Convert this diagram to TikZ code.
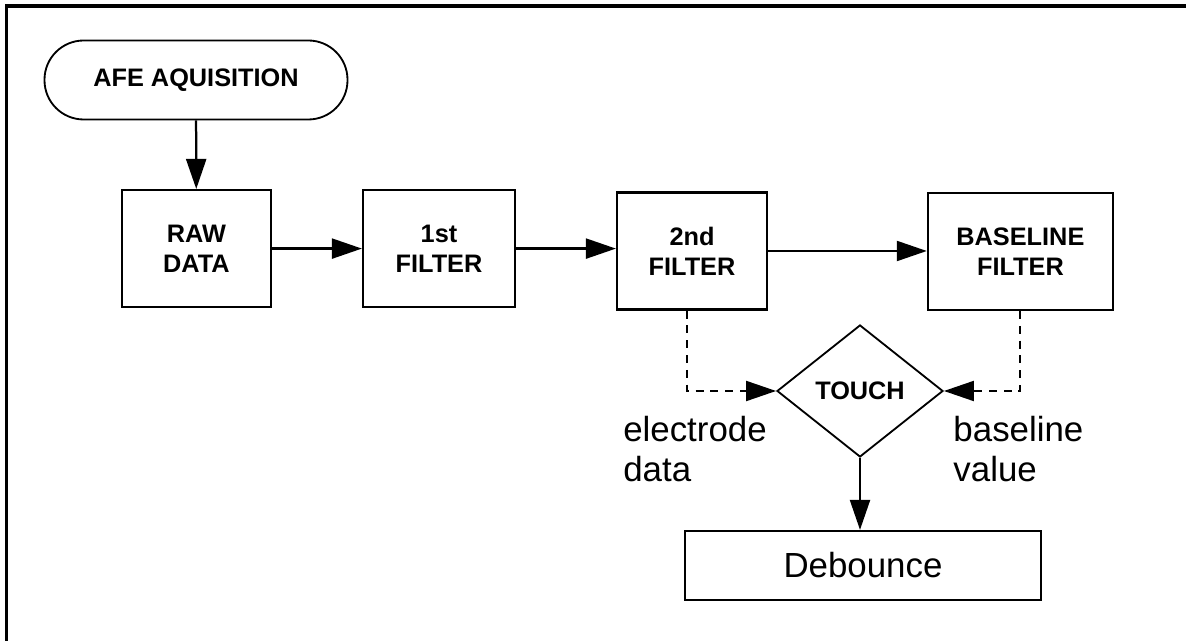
\documentclass[tikz,border=0pt]{standalone}
\usepackage{fontspec}
\setmainfont{Liberation Sans}
\usetikzlibrary{shapes.geometric,arrows.meta}

\begin{document}
\begin{tikzpicture}[
    blk/.style={draw, line width=1.6pt, minimum width=3.75cm, minimum height=2.925cm,
        align=center, font=\fontsize{18}{21.5}\selectfont\bfseries},
    flow/.style={-{Triangle[length=0.75cm,width=0.5cm]}, line width=1.6pt},
    dflow/.style={flow, line width=1.4pt, dash pattern=on 0.2cm off 0.17cm},
    lbltext/.style={inner sep=0pt, align=left, font=\fontsize{24.8}{28.4}\selectfont}
]
    % Frame
    \useasboundingbox (0,0) rectangle (29.65,16.025);
    \draw[line width=2.4pt] (0.16,0) -- (0.16,15.875) -- (29.65,15.875);

    % Start
    \node[blk, rounded corners=0.98cm, line width=1.3pt, minimum width=7.575cm, minimum height=1.975cm] (afe) at (4.9,14.025) {AFE AQUISITION};

    % Filter chain
    \node[blk, minimum width=3.725cm] (raw) at (4.91,9.81) {RAW\\DATA};
    \node[blk, minimum width=3.8cm] (fa) at (10.975,9.81) {1st\\FILTER};
    \node[blk] (fb) at (17.3,9.75) {2nd\\FILTER};
    \node[blk, minimum width=4.625cm] (base) at (25.51,9.74) {BASELINE\\FILTER};

    % Decision and debounce
    \node[blk, diamond, line width=1.3pt, minimum width=4.15cm, minimum height=3.3cm, inner sep=0pt] (touch) at (21.5,6.25) {TOUCH};
    \node[blk, minimum width=8.9cm, minimum height=1.725cm, font=\fontsize{24.8}{28.4}\selectfont] (deb) at (21.575,1.8875) {Debounce};

    % Labels
    \node[lbltext, anchor=north west] (edata) at (15.575,5.62) {electrode\\data};
    \node[lbltext, anchor=north west] (bval) at (23.83,5.62) {baseline\\value};

    % Arrows
    \draw[flow] (afe) -- (raw);
    \draw[flow] (raw) -- (fa);
    \draw[flow] (fa.east) -- (fa.east -| fb.west);
    \draw[flow] (fb.east) -- (fb.east -| base.west);
    \draw[dflow] ([xshift=-0.12cm]fb.south) |- (touch.west);
    \draw[dflow] (base.south) |- (touch.east);
    \draw[flow] (touch.south) -- (touch.south |- deb.north);
\end{tikzpicture}
\end{document}
